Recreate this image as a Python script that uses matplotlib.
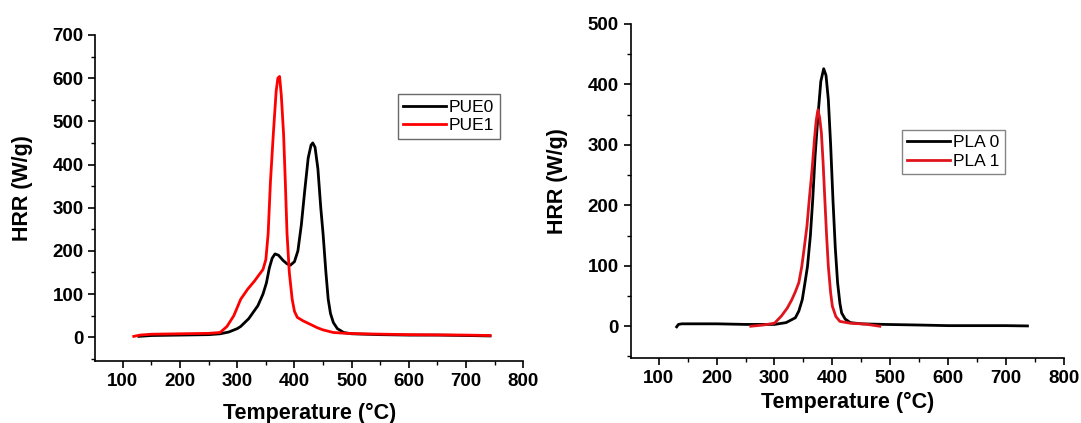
import matplotlib.pyplot as plt
from matplotlib.ticker import MultipleLocator

plt.rcParams['font.family'] = ['Liberation Sans', 'DejaVu Sans']

# left panel: PUE
pue0_t = [128, 150, 200, 250, 270, 285, 300, 306, 320, 336, 345, 351, 356, 361, 366, 372, 380, 387, 393,
          400, 406, 412, 418, 424, 429, 432, 436, 441, 446, 450, 455, 459, 463, 468, 475, 486, 500,
          550, 600, 650, 700, 742]
pue0_hrr = [2, 4, 5, 6, 8, 12, 20, 25, 43, 73, 100, 126, 160, 183, 193, 190, 178, 170, 167,
            175, 200, 260, 340, 415, 445, 450, 440, 390, 300, 240, 150, 88, 55, 34, 20, 11, 8,
            6, 5, 5, 4, 3]

pue1_t = [119, 130, 150, 200, 250, 270, 282, 294, 306, 318, 330, 340, 345, 350, 354, 358, 363, 368,
          371, 374, 377, 381, 384, 387, 391, 396, 400, 405, 415, 426, 440, 450, 468, 490, 516, 600,
          700, 742]
pue1_hrr = [2, 5, 7, 8, 9, 11, 25, 50, 88, 111, 130, 148, 157, 180, 240, 360, 470, 570,
            600, 604, 560, 470, 360, 240, 150, 88, 60, 46, 38, 31, 22, 17, 11, 9, 8, 6,
            5, 4]

# right panel: PLA
pla0_t = [131, 134, 140, 200, 250, 300, 320, 336, 342, 348, 352, 357, 362, 366, 370, 375, 380, 385,
          389, 393, 397, 401, 405, 409, 413, 416, 422, 431, 450, 491, 550, 600, 650, 700, 737]
pla0_hrr = [-1, 3, 4, 4, 3, 3, 6, 14, 25, 44, 68, 99, 150, 209, 280, 347, 405, 426,
            415, 375, 300, 209, 130, 72, 38, 22, 12, 6, 4, 3, 2, 1, 1, 1, 0.5]

pla1_t = [259, 280, 300, 312, 322, 330, 336, 342, 347, 351, 356, 360, 365, 369, 372, 375, 378, 381,
          384, 387, 390, 393, 397, 400, 406, 413, 431, 450, 461, 482]
pla1_hrr = [0, 2, 5, 17, 30, 44, 57, 72, 98, 127, 165, 209, 260, 309, 340, 358, 345, 320,
            270, 209, 150, 99, 55, 33, 16, 8, 5, 4, 3, 0]


def style_axis(ax, xmin, ymin, ymax, xlab_y):
    ax.set_xlim(xmin, 800)
    ax.set_ylim(ymin, ymax)
    ax.spines['top'].set_visible(False)
    ax.spines['right'].set_visible(False)
    ax.xaxis.set_major_locator(MultipleLocator(100))
    ax.xaxis.set_minor_locator(MultipleLocator(50))
    ax.set_yticks(range(0, ymax + 1, 100))
    ax.yaxis.set_minor_locator(MultipleLocator(50))
    ax.tick_params(which='major', direction='out', length=5, width=1.2, labelsize=13.5)
    ax.tick_params(which='minor', direction='out', length=3, width=1)
    for lab in ax.get_xticklabels() + ax.get_yticklabels():
        lab.set_fontweight('bold')
    for s in ['left', 'bottom']:
        ax.spines[s].set_linewidth(1.2)
    ax.set_xlabel('Temperature (°C)', fontsize=15.5, fontweight='bold')
    ax.set_ylabel('HRR (W/g)', fontsize=15.5, fontweight='bold')
    ax.xaxis.set_label_coords(0.5, xlab_y)
    ax.yaxis.set_label_coords(-0.145, 0.53)


fig = plt.figure(figsize=(10.81, 4.23), dpi=100)

ax1 = fig.add_axes([0.0883, 0.1466, 0.3957, 0.7707])
ax1.plot(pue0_t, pue0_hrr, color='black', lw=2, label='PUE0')
ax1.plot(pue1_t, pue1_hrr, color='red', lw=2, label='PUE1')
style_axis(ax1, 52, -55, 700, -0.13)
ax1.legend(loc='upper left', bbox_to_anchor=(0.707, 0.818), fontsize=12.5, frameon=True,
           fancybox=False, edgecolor='#444444', handlelength=2.5, handletextpad=0.15,
           borderpad=0.3, labelspacing=0.2, borderaxespad=0)

ax2 = fig.add_axes([0.5834, 0.153, 0.4008, 0.7903])
ax2.plot(pla0_t, pla0_hrr, color='black', lw=2, label='PLA 0')
ax2.plot(pla1_t, pla1_hrr, color='#e0141c', lw=2, label='PLA 1')
style_axis(ax2, 51.5, -53, 500, -0.1)
ax2.legend(loc='upper left', bbox_to_anchor=(0.626, 0.683), fontsize=12.5, frameon=True,
           fancybox=False, edgecolor='#666666', handlelength=2.5, handletextpad=0.15,
           borderpad=0.3, labelspacing=0.2, borderaxespad=0)

fig.savefig('out.png', dpi=100)
